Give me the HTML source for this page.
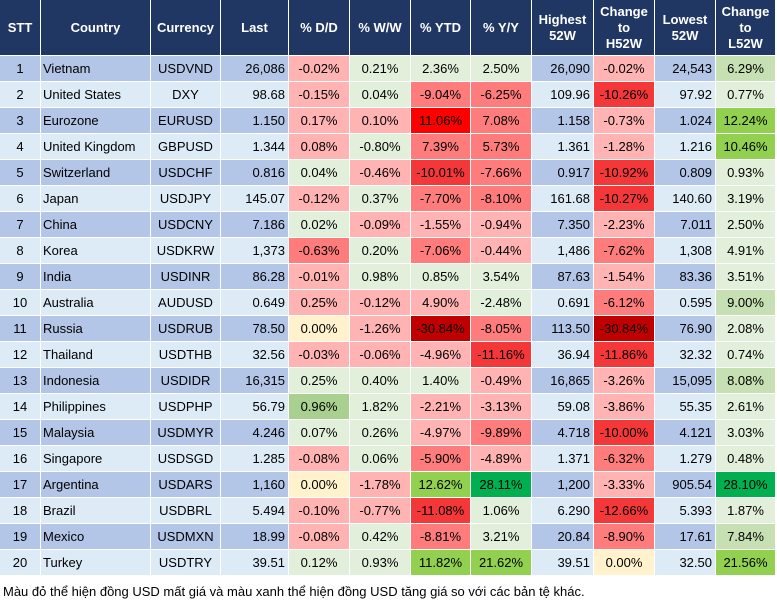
<!DOCTYPE html>
<html>
<head>
<meta charset="utf-8">
<style>
  html,body{margin:0;padding:0;background:#fff;}
  body{width:777px;height:602px;position:relative;overflow:hidden;font-family:"Liberation Sans",Arial,sans-serif;}
  .grid{position:absolute;left:0;top:0;display:grid;
    grid-template-columns:40px 109px 69px 67px 60px 60px 59px 60px 61px 60px 60px 59px;
    grid-template-rows:55px repeat(20,25px);
    column-gap:1px;row-gap:1px;background:#fff;}
  .grid>div{font-size:13px;color:#000;line-height:25px;white-space:nowrap;overflow:hidden;}
  .h{background:#203764;color:#fff !important;font-weight:bold;display:flex;align-items:center;justify-content:center;text-align:center;line-height:16px !important;}
  .c{text-align:center;}
  .l{text-align:left;padding-left:2px;}
  .r{text-align:right;padding-right:3px;}
  .o{background:#B4C6E7;}
  .e{background:#DDEBF7;}
  .p0{background:#FFB3B3;}
  .p1{background:#FF7C7C;}
  .p2{background:#F4383A;}
  .p3{background:#FF0000;}
  .p4{background:#C00000;}
  .y{background:#FFF2CC;}
  .g0{background:#E2EFDA;}
  .g1{background:#C6E0B4;}
  .gb{background:#A9D08E;}
  .g2{background:#92D050;}
  .g3{background:#00B050;}
  .note{position:absolute;left:3px;top:584px;font-size:13px;line-height:15px;color:#000;white-space:nowrap;font-family:"Liberation Sans",Arial,sans-serif;}
</style>
</head>
<body>
<div class="grid">
  <div class="h">STT</div><div class="h">Country</div><div class="h">Currency</div><div class="h">Last</div><div class="h">% D/D</div><div class="h">% W/W</div><div class="h">% YTD</div><div class="h">% Y/Y</div><div class="h">Highest<br>52W</div><div class="h">Change<br>to<br>H52W</div><div class="h">Lowest<br>52W</div><div class="h">Change<br>to<br>L52W</div>

  <div class="c o">1</div><div class="l o">Vietnam</div><div class="c o">USDVND</div><div class="r o">26,086</div><div class="c p0">-0.02%</div><div class="c g0">0.21%</div><div class="c g0">2.36%</div><div class="c g0">2.50%</div><div class="r o">26,090</div><div class="c p0">-0.02%</div><div class="r o">24,543</div><div class="c g1">6.29%</div>

  <div class="c e">2</div><div class="l e">United States</div><div class="c e">DXY</div><div class="r e">98.68</div><div class="c p0">-0.15%</div><div class="c g0">0.04%</div><div class="c p1">-9.04%</div><div class="c p1">-6.25%</div><div class="r e">109.96</div><div class="c p2">-10.26%</div><div class="r e">97.92</div><div class="c g0">0.77%</div>

  <div class="c o">3</div><div class="l o">Eurozone</div><div class="c o">EURUSD</div><div class="r o">1.150</div><div class="c p0">0.17%</div><div class="c p0">0.10%</div><div class="c p3">11.06%</div><div class="c p1">7.08%</div><div class="r o">1.158</div><div class="c p0">-0.73%</div><div class="r o">1.024</div><div class="c g2">12.24%</div>

  <div class="c e">4</div><div class="l e">United Kingdom</div><div class="c e">GBPUSD</div><div class="r e">1.344</div><div class="c p0">0.08%</div><div class="c g0">-0.80%</div><div class="c p1">7.39%</div><div class="c p1">5.73%</div><div class="r e">1.361</div><div class="c p0">-1.28%</div><div class="r e">1.216</div><div class="c g2">10.46%</div>

  <div class="c o">5</div><div class="l o">Switzerland</div><div class="c o">USDCHF</div><div class="r o">0.816</div><div class="c g0">0.04%</div><div class="c p0">-0.46%</div><div class="c p2">-10.01%</div><div class="c p1">-7.66%</div><div class="r o">0.917</div><div class="c p2">-10.92%</div><div class="r o">0.809</div><div class="c g0">0.93%</div>

  <div class="c e">6</div><div class="l e">Japan</div><div class="c e">USDJPY</div><div class="r e">145.07</div><div class="c p0">-0.12%</div><div class="c g0">0.37%</div><div class="c p1">-7.70%</div><div class="c p1">-8.10%</div><div class="r e">161.68</div><div class="c p2">-10.27%</div><div class="r e">140.60</div><div class="c g0">3.19%</div>

  <div class="c o">7</div><div class="l o">China</div><div class="c o">USDCNY</div><div class="r o">7.186</div><div class="c g0">0.02%</div><div class="c p0">-0.09%</div><div class="c p0">-1.55%</div><div class="c p0">-0.94%</div><div class="r o">7.350</div><div class="c p0">-2.23%</div><div class="r o">7.011</div><div class="c g0">2.50%</div>

  <div class="c e">8</div><div class="l e">Korea</div><div class="c e">USDKRW</div><div class="r e">1,373</div><div class="c p1">-0.63%</div><div class="c g0">0.20%</div><div class="c p1">-7.06%</div><div class="c p0">-0.44%</div><div class="r e">1,486</div><div class="c p1">-7.62%</div><div class="r e">1,308</div><div class="c g0">4.91%</div>

  <div class="c o">9</div><div class="l o">India</div><div class="c o">USDINR</div><div class="r o">86.28</div><div class="c p0">-0.01%</div><div class="c g0">0.98%</div><div class="c g0">0.85%</div><div class="c g0">3.54%</div><div class="r o">87.63</div><div class="c p0">-1.54%</div><div class="r o">83.36</div><div class="c g0">3.51%</div>

  <div class="c e">10</div><div class="l e">Australia</div><div class="c e">AUDUSD</div><div class="r e">0.649</div><div class="c p0">0.25%</div><div class="c p0">-0.12%</div><div class="c p0">4.90%</div><div class="c g0">-2.48%</div><div class="r e">0.691</div><div class="c p1">-6.12%</div><div class="r e">0.595</div><div class="c g1">9.00%</div>

  <div class="c o">11</div><div class="l o">Russia</div><div class="c o">USDRUB</div><div class="r o">78.50</div><div class="c y">0.00%</div><div class="c p0">-1.26%</div><div class="c p4">-30.84%</div><div class="c p1">-8.05%</div><div class="r o">113.50</div><div class="c p4">-30.84%</div><div class="r o">76.90</div><div class="c g0">2.08%</div>

  <div class="c e">12</div><div class="l e">Thailand</div><div class="c e">USDTHB</div><div class="r e">32.56</div><div class="c p0">-0.03%</div><div class="c p0">-0.06%</div><div class="c p0">-4.96%</div><div class="c p2">-11.16%</div><div class="r e">36.94</div><div class="c p2">-11.86%</div><div class="r e">32.32</div><div class="c g0">0.74%</div>

  <div class="c o">13</div><div class="l o">Indonesia</div><div class="c o">USDIDR</div><div class="r o">16,315</div><div class="c g0">0.25%</div><div class="c g0">0.40%</div><div class="c g0">1.40%</div><div class="c p0">-0.49%</div><div class="r o">16,865</div><div class="c p0">-3.26%</div><div class="r o">15,095</div><div class="c g1">8.08%</div>

  <div class="c e">14</div><div class="l e">Philippines</div><div class="c e">USDPHP</div><div class="r e">56.79</div><div class="c gb">0.96%</div><div class="c g0">1.82%</div><div class="c p0">-2.21%</div><div class="c p0">-3.13%</div><div class="r e">59.08</div><div class="c p0">-3.86%</div><div class="r e">55.35</div><div class="c g0">2.61%</div>

  <div class="c o">15</div><div class="l o">Malaysia</div><div class="c o">USDMYR</div><div class="r o">4.246</div><div class="c g0">0.07%</div><div class="c g0">0.26%</div><div class="c p0">-4.97%</div><div class="c p1">-9.89%</div><div class="r o">4.718</div><div class="c p2">-10.00%</div><div class="r o">4.121</div><div class="c g0">3.03%</div>

  <div class="c e">16</div><div class="l e">Singapore</div><div class="c e">USDSGD</div><div class="r e">1.285</div><div class="c p0">-0.08%</div><div class="c g0">0.06%</div><div class="c p1">-5.90%</div><div class="c p0">-4.89%</div><div class="r e">1.371</div><div class="c p1">-6.32%</div><div class="r e">1.279</div><div class="c g0">0.48%</div>

  <div class="c o">17</div><div class="l o">Argentina</div><div class="c o">USDARS</div><div class="r o">1,160</div><div class="c y">0.00%</div><div class="c p0">-1.78%</div><div class="c g2">12.62%</div><div class="c g3">28.11%</div><div class="r o">1,200</div><div class="c p0">-3.33%</div><div class="r o">905.54</div><div class="c g3">28.10%</div>

  <div class="c e">18</div><div class="l e">Brazil</div><div class="c e">USDBRL</div><div class="r e">5.494</div><div class="c p0">-0.10%</div><div class="c p0">-0.77%</div><div class="c p2">-11.08%</div><div class="c g0">1.06%</div><div class="r e">6.290</div><div class="c p2">-12.66%</div><div class="r e">5.393</div><div class="c g0">1.87%</div>

  <div class="c o">19</div><div class="l o">Mexico</div><div class="c o">USDMXN</div><div class="r o">18.99</div><div class="c p0">-0.08%</div><div class="c g0">0.42%</div><div class="c p1">-8.81%</div><div class="c g0">3.21%</div><div class="r o">20.84</div><div class="c p1">-8.90%</div><div class="r o">17.61</div><div class="c g1">7.84%</div>

  <div class="c e">20</div><div class="l e">Turkey</div><div class="c e">USDTRY</div><div class="r e">39.51</div><div class="c g0">0.12%</div><div class="c g0">0.93%</div><div class="c g2">11.82%</div><div class="c g2">21.62%</div><div class="r e">39.51</div><div class="c y">0.00%</div><div class="r e">32.50</div><div class="c g2">21.56%</div>
</div>
<div class="note">Màu đỏ thể hiện đồng USD mất giá và màu xanh thể hiện đồng USD tăng giá so với các bản tệ khác.</div>
</body>
</html>
